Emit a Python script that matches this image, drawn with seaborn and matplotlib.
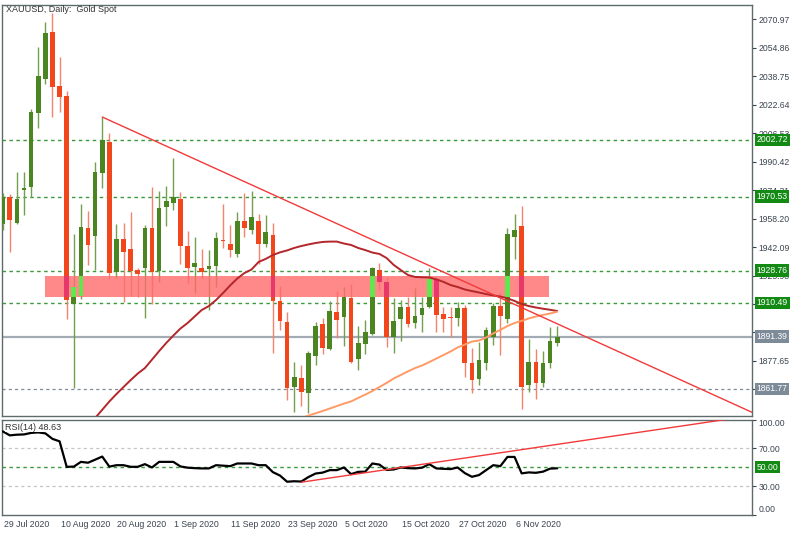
import matplotlib
matplotlib.use("Agg")
import matplotlib.pyplot as plt
import matplotlib.transforms as mtransforms
from matplotlib.patches import Rectangle
import numpy as np
import pandas as pd
import seaborn as sns

# ---------------- data ----------------
opens = [1955.16, 1970.45, 1955.73, 1974.41, 1976.11, 2018.00, 2037.25, 2063.85, 2033.29, 2027.62,
         1909.88, 1914.41, 1952.90, 1948.37, 1984.04, 2001.59, 1928.00, 1946.67, 1941.01, 1929.13,
         1930.26, 1952.90, 1928.56, 1964.79, 1967.05, 1969.32, 1942.71, 1930.82, 1930.26, 1929.69,
         1931.39, 1946.11, 1943.84, 1938.18, 1956.86, 1951.77, 1956.86, 1943.84, 1948.94, 1911.58,
         1899.69, 1862.89, 1867.99, 1859.49, 1880.44, 1898.55, 1884.40, 1905.34, 1902.52, 1913.28,
         1878.74, 1887.24, 1892.90, 1929.13, 1922.33, 1891.20, 1901.39, 1908.18, 1899.12, 1903.65,
         1908.18, 1924.03, 1904.22, 1902.52, 1901.95, 1907.61, 1876.48, 1867.42, 1876.48, 1891.20,
         1908.74, 1901.39, 1947.81, 1954.03, 1864.02, 1877.04, 1865.16, 1876.48, 1887.80]
highs = [1972.71, 1972.14, 1984.60, 1984.60, 2020.27, 2055.36, 2069.52, 2074.61, 2049.70, 2030.46,
         1949.50, 1966.49, 1962.53, 1990.26, 2015.74, 2006.68, 1955.16, 1955.73, 1961.96, 1930.26,
         1954.60, 1976.11, 1973.84, 1976.67, 1992.53, 1973.28, 1951.20, 1947.81, 1941.01, 1940.45,
         1950.64, 1966.49, 1954.60, 1961.96, 1972.71, 1973.84, 1960.83, 1960.26, 1955.73, 1920.07,
         1905.34, 1877.04, 1875.35, 1883.27, 1899.69, 1901.95, 1911.58, 1917.24, 1919.50, 1921.20,
         1897.42, 1900.82, 1930.82, 1933.09, 1925.17, 1913.28, 1912.14, 1913.84, 1918.94, 1913.84,
         1930.26, 1925.17, 1908.18, 1908.18, 1911.01, 1909.31, 1884.97, 1888.37, 1896.86, 1910.44,
         1916.10, 1952.90, 1960.83, 1965.36, 1890.07, 1884.40, 1883.27, 1896.86, 1897.42]
lows = [1951.77, 1939.31, 1955.16, 1960.26, 1970.45, 2009.51, 2034.42, 2015.74, 2018.57, 1901.39,
        1862.32, 1912.71, 1931.96, 1929.13, 1975.54, 1924.60, 1924.60, 1911.01, 1914.41, 1913.84,
        1901.95, 1909.88, 1922.33, 1954.03, 1963.09, 1932.52, 1921.77, 1916.10, 1924.60, 1906.48,
        1919.50, 1941.58, 1936.49, 1936.49, 1947.81, 1949.50, 1932.52, 1942.14, 1882.14, 1895.16,
        1855.53, 1848.73, 1852.13, 1848.17, 1875.35, 1881.57, 1883.84, 1890.63, 1886.10, 1876.48,
        1872.52, 1881.57, 1892.33, 1917.81, 1885.54, 1882.14, 1888.93, 1896.86, 1896.29, 1894.03,
        1907.61, 1894.03, 1894.03, 1891.20, 1897.42, 1868.55, 1859.49, 1864.02, 1872.52, 1886.67,
        1881.01, 1899.12, 1935.35, 1850.43, 1860.06, 1856.09, 1862.89, 1873.65, 1886.10]
closes = [1970.45, 1957.43, 1969.32, 1975.54, 2018.57, 2038.95, 2063.29, 2032.72, 2027.06, 1912.14,
          1919.50, 1953.47, 1943.28, 1984.60, 2002.72, 1927.43, 1946.67, 1939.31, 1928.56, 1926.86,
          1952.90, 1928.00, 1964.22, 1968.19, 1970.45, 1942.71, 1930.26, 1933.09, 1928.00, 1931.39,
          1947.24, 1945.54, 1940.45, 1956.86, 1952.90, 1959.13, 1943.84, 1950.64, 1911.58, 1900.25,
          1862.32, 1868.55, 1860.06, 1882.14, 1897.42, 1884.97, 1905.91, 1900.82, 1913.84, 1877.04,
          1887.80, 1894.03, 1930.26, 1922.33, 1891.20, 1900.25, 1908.18, 1898.55, 1903.09, 1907.61,
          1924.03, 1903.65, 1901.39, 1901.95, 1907.61, 1876.48, 1866.86, 1878.17, 1895.16, 1908.74,
          1903.09, 1949.50, 1951.77, 1862.89, 1877.04, 1865.16, 1876.48, 1888.93, 1891.39]

# slow moving average (dark red), bars 12..78
ma_red_start = 12
ma_red = [1840.2, 1845.3, 1850.0, 1854.7, 1858.9, 1862.9, 1866.8, 1870.5, 1873.6, 1878.4,
          1883.2, 1887.8, 1892.0, 1896.0, 1899.1, 1902.8, 1906.5, 1908.7, 1912.1, 1916.1,
          1920.4, 1924.3, 1927.4, 1929.4, 1933.7, 1935.4, 1937.6, 1939.1, 1940.2, 1941.6,
          1942.7, 1943.6, 1944.4, 1945.0, 1945.2, 1945.2, 1944.1, 1943.3, 1941.6, 1940.4,
          1939.0, 1938.2, 1935.9, 1932.0, 1929.1, 1926.3, 1925.2, 1925.0, 1924.9, 1923.8,
          1922.4, 1920.6, 1919.5, 1918.1, 1917.2, 1916.4, 1915.5, 1914.7, 1914.1, 1913.1,
          1911.6, 1909.9, 1908.7, 1907.9, 1907.2, 1906.6, 1905.9]
# second moving average (orange), bars 42..78
ma_orange_start = 42
ma_orange = [1845.3, 1846.7, 1848.0, 1849.3, 1850.7, 1852.1, 1853.5, 1854.7, 1856.7, 1858.6,
             1860.6, 1862.9, 1865.2, 1867.7, 1869.7, 1871.7, 1873.6, 1875.1, 1877.0, 1879.0,
             1881.0, 1883.0, 1885.3, 1886.9, 1888.6, 1889.2, 1890.9, 1893.2, 1895.2, 1897.4,
             1899.1, 1900.3, 1901.7, 1902.8, 1903.7, 1904.5, 1905.5]

rsi = [87.5, 83.3, 84.0, 84.3, 85.9, 86.4, 85.4, 79.6, 77.0, 50.2,
       50.4, 55.4, 54.5, 57.7, 61.0, 50.4, 51.9, 51.9, 50.2, 50.2,
       53.0, 49.5, 55.4, 55.4, 55.4, 50.6, 49.3, 48.8, 48.5, 48.5,
       51.9, 51.4, 50.9, 53.7, 53.7, 53.7, 51.9, 51.9, 44.6, 41.0,
       34.5, 35.0, 34.7, 39.4, 43.1, 44.1, 46.7, 46.7, 49.5, 42.5,
       44.9, 45.1, 53.7, 52.5, 46.9, 47.4, 49.5, 48.8, 48.5, 49.3,
       53.0, 48.5, 48.1, 47.8, 49.5, 43.6, 39.7, 41.5, 46.7, 51.9,
       50.9, 60.6, 60.6, 43.3, 44.3, 43.9, 45.1, 48.3, 48.63]

date_labels = ["29 Jul 2020", "10 Aug 2020", "20 Aug 2020", "1 Sep 2020", "11 Sep 2020",
               "23 Sep 2020", "5 Oct 2020", "15 Oct 2020", "27 Oct 2020", "6 Nov 2020"]
date_label_bars = [0, 8, 16, 24, 32, 40, 48, 56, 64, 72]

price_ticks = [2070.97, 2054.86, 2038.75, 2022.64, 2006.53, 1990.42, 1974.31, 1958.20,
               1942.09, 1925.98, 1909.87, 1893.76, 1877.65, 1861.54]
# tick labels fully hidden behind level boxes in the original
hidden_tick_labels = [1909.87, 1861.54]
green_levels = [2002.72, 1970.53, 1928.76, 1910.49]
bid_level = 1891.39
gray_level = 1861.77

zone_bars = [5.9, 76.9]
zone_prices = [1914.0, 1925.9]

resist_points = [(14, 2015.74), (60, 1931.6)]
rsi_trend_points = [(42, 34.0), (78, 73.8)]

rsi_label = "RSI(14) 48.63"
title = "XAUUSD, Daily:  Gold Spot"

# ---------------- style ----------------
sns.set_style("white")
plt.rcParams['font.family'] = ['Liberation Sans', 'DejaVu Sans']

W, H = 800, 533
fig = plt.figure(figsize=(W / 100, H / 100), dpi=100)

def px_axes(x0, y0, x1, y1):
    return fig.add_axes([x0 / W, 1 - y1 / H, (x1 - x0) / W, (y1 - y0) / H])

ax = px_axes(2, 5, 752, 416)
axr = px_axes(2, 419.5, 752, 514.5)

frame_col = '#5f6b6b'
txt_col = '#3a4450'
for a in (ax, axr):
    for s in a.spines.values():
        s.set_color(frame_col)
        s.set_linewidth(1.0)
    a.set_facecolor('white')

n = len(opens)
idx = np.arange(n)
df = pd.DataFrame({'bar': idx, 'open': opens, 'high': highs, 'low': lows, 'close': closes})
up = df['close'] >= df['open']

g_body, g_wick = '#4b8522', '#74a04e'
r_body, r_wick = '#f2461c', '#f3836c'
bw = 0.66

# wicks
ax.vlines(df.loc[up, 'bar'], df.loc[up, 'low'], df.loc[up, 'high'], color=g_wick, lw=1.0, zorder=3)
ax.vlines(df.loc[~up, 'bar'], df.loc[~up, 'low'], df.loc[~up, 'high'], color=r_wick, lw=1.0, zorder=3)

body_lo = np.minimum(df['open'], df['close'])
body_h = np.maximum(np.abs(df['close'] - df['open']), 0.5)
cols = np.where(up, g_body, r_body)
ax.bar(idx, body_h, bottom=body_lo, width=bw, color=cols, linewidth=0, zorder=4)

# support / resistance zone
zone = Rectangle((zone_bars[0], zone_prices[0]), zone_bars[1] - zone_bars[0],
                 zone_prices[1] - zone_prices[0], facecolor='#ff6b6b', alpha=0.8,
                 edgecolor='none', zorder=5)
ax.add_patch(zone)
clip_rect = Rectangle((zone_bars[0], zone_prices[0]), zone_bars[1] - zone_bars[0],
                      zone_prices[1] - zone_prices[0], transform=ax.transData)
bright = np.where(up, '#5fe84e', '#e8386a')
overlay = ax.bar(idx, body_h, bottom=body_lo, width=bw, color=bright, linewidth=0, zorder=6)
for b in overlay:
    b.set_clip_path(clip_rect)

# horizontal levels
for lv in green_levels:
    ax.axhline(lv, color='#3a9a3a', lw=1.0, ls=(0, (2.5, 2.5)), zorder=2)
ax.axhline(bid_level, color='#a3acb5', lw=1.6, zorder=2)
ax.axhline(gray_level, color='#7f8c98', lw=0.9, ls=(0, (2.5, 2.5)), zorder=2)

# moving averages
sns.lineplot(x=np.arange(ma_red_start, ma_red_start + len(ma_red)), y=ma_red, ax=ax,
             color='#b3262a', lw=1.4, zorder=7)
sns.lineplot(x=np.arange(ma_orange_start, ma_orange_start + len(ma_orange)), y=ma_orange, ax=ax,
             color='#ff9a66', lw=1.4, zorder=7)

xmax = 105.4
# resistance trendline (ray to the right)
(x0, y0), (x1, y1) = resist_points
slope = (y1 - y0) / (x1 - x0)
ax.plot([x0, xmax], [y0, y0 + slope * (xmax - x0)], color='#f23a3a', lw=1.0, zorder=8)

ax.set_xlim(-0.1, xmax)
ax.set_ylim(1846.47, 2079.14)
ax.set_xticks([])
ax.yaxis.tick_right()
ax.set_yticks(price_ticks)
ax.set_yticklabels(["" if v in hidden_tick_labels else f"{v:.2f}" for v in price_ticks])
ax.tick_params(axis='y', labelsize=6.2, colors=txt_col, length=3, width=0.8, pad=1.5, direction='out')
ax.set_ylabel('')
ax.set_xlabel('')

# price label boxes
trans = mtransforms.blended_transform_factory(ax.transAxes, ax.transData)
trans = mtransforms.offset_copy(trans, fig=fig, x=4.5, y=0, units='dots')
def price_box(v, fc):
    ax.text(1.0, v, f"{v:.2f}", transform=trans, ha='left', va='center', fontsize=6.2,
            color='white', zorder=20, clip_on=False,
            bbox=dict(boxstyle='square,pad=0.22', fc=fc, ec='none'))
for lv in green_levels:
    price_box(lv, '#138a13')
price_box(bid_level, '#7d8b99')
price_box(gray_level, '#7d8b99')

fig.text(6 / W, 1 - 9 / H, title, fontsize=6.5, color='#333333', va='center', ha='left')

# ---------------- RSI panel ----------------
for lv in (70, 30):
    axr.axhline(lv, color='#c4c4c4', lw=0.9, ls=(0, (2.5, 2.5)), zorder=1)
axr.axhline(50, color='#3a9a3a', lw=1.0, ls=(0, (2.5, 2.5)), zorder=1)
sns.lineplot(x=idx, y=rsi, ax=axr, color='black', lw=1.6, zorder=3)
(rx0, ry0), (rx1, ry1) = rsi_trend_points
rs = (ry1 - ry0) / (rx1 - rx0)
axr.plot([rx0, xmax], [ry0, ry0 + rs * (xmax - rx0)], color='#f23a3a', lw=1.0, zorder=4)
axr.set_xlim(-0.1, xmax)
axr.set_ylim(0, 100)
fig.text(5 / W, 1 - 427 / H, rsi_label, fontsize=6.5, color='#333333',
         va='center', ha='left', zorder=10,
         bbox=dict(boxstyle='square,pad=0.05', fc='white', ec='none'))

axr.yaxis.tick_right()
axr.set_yticks([100, 70, 30, 0])
axr.set_yticklabels(["100.00", "70.00", "30.00", "0.00"])
axr.tick_params(axis='y', labelsize=6.2, colors=txt_col, length=3, width=0.8, pad=1.5, direction='out')
tl = axr.get_yticklabels()
tl[0].set_va('top')
tl[3].set_va('bottom')
transr = mtransforms.blended_transform_factory(axr.transAxes, axr.transData)
transr = mtransforms.offset_copy(transr, fig=fig, x=4.5, y=0, units='dots')
axr.text(1.0, 50, "50.00", transform=transr, ha='left', va='center', fontsize=6.2,
         color='white', zorder=20, clip_on=False,
         bbox=dict(boxstyle='square,pad=0.22', fc='#138a13', ec='none'))

axr.set_xticks(date_label_bars)
axr.set_xticklabels(date_labels)
axr.tick_params(axis='x', labelsize=6.3, colors=txt_col, length=3, width=0.8, pad=1.0, direction='out')
for lab in axr.get_xticklabels():
    lab.set_ha('left')
    lab.set_transform(lab.get_transform() + mtransforms.ScaledTranslation(1 / 100, 0, fig.dpi_scale_trans))
axr.set_ylabel('')
axr.set_xlabel('')

fig.savefig('out.png', dpi=100, facecolor='white')
